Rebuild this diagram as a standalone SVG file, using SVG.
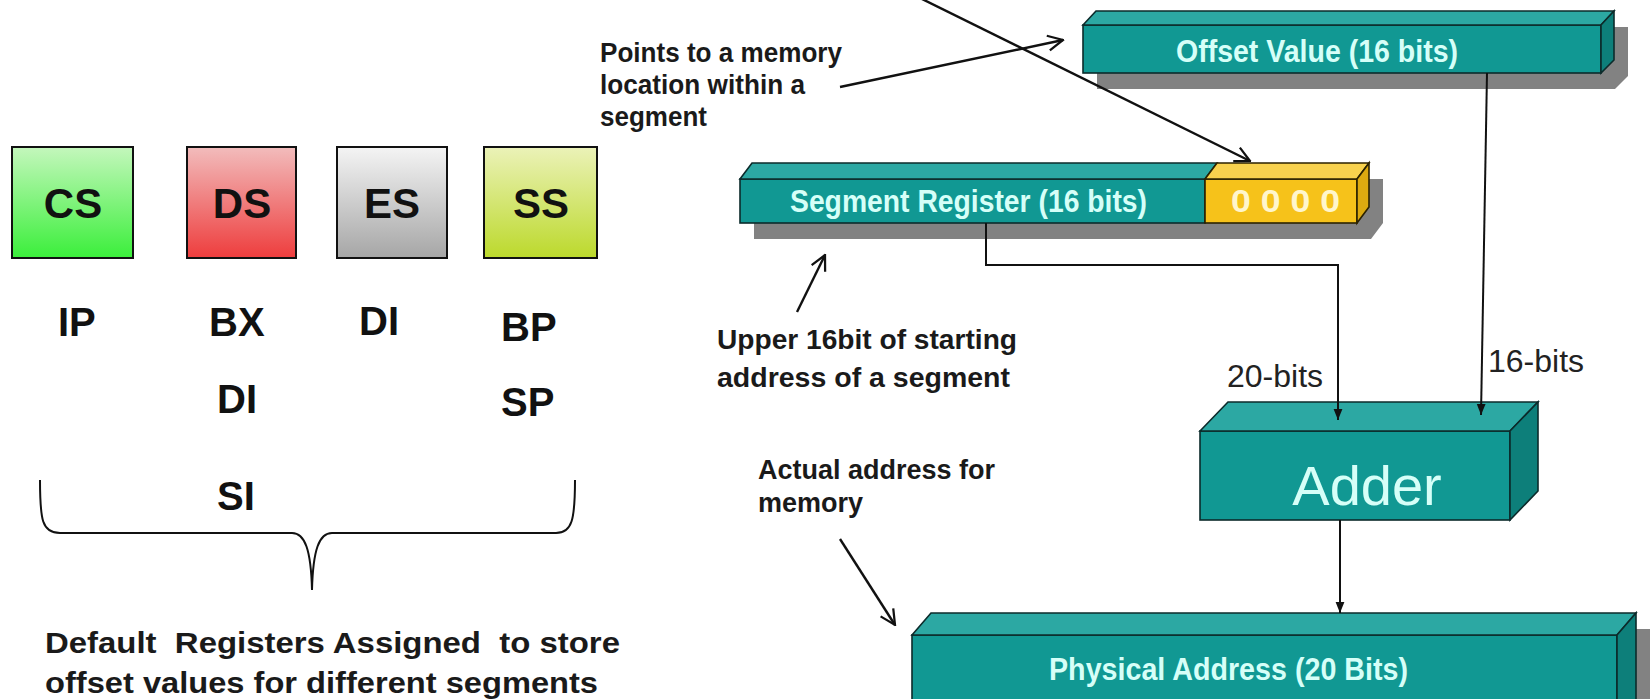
<svg xmlns="http://www.w3.org/2000/svg" width="1650" height="699" viewBox="0 0 1650 699">
<style>
  .seg{stroke:#111;stroke-width:2}
  .big{font-family:"Liberation Sans",Arial,sans-serif;font-weight:bold;font-size:42px;fill:#111;text-anchor:middle}
  .reg{font-family:"Liberation Sans",Arial,sans-serif;font-weight:bold;font-size:40px;fill:#111}
  .note{font-family:"Liberation Sans",Arial,sans-serif;font-weight:bold;font-size:27px;fill:#1a1a1a}
  .cap{font-family:"Liberation Sans",Arial,sans-serif;font-weight:bold;font-size:30px;fill:#1a1a1a}
  .bits{font-family:"Liberation Sans",Arial,sans-serif;font-size:32px;fill:#222}
  .front{fill:#119893;stroke:#0c2b2b;stroke-width:1.6}
  .top{fill:#2ca8a3;stroke:#0c2b2b;stroke-width:1.6}
  .side{fill:#0d7f7a;stroke:#0c2b2b;stroke-width:1.6}
  .yfront{fill:#f6c21a;stroke:#2b2200;stroke-width:1.6}
  .ytop{fill:#f8d24e;stroke:#2b2200;stroke-width:1.6}
  .yside{fill:#dcaa10;stroke:#2b2200;stroke-width:1.6}
  .shadow{fill:#828282}
  .btxt{font-family:"Liberation Sans Narrow","Liberation Sans",Arial,sans-serif;font-weight:bold;font-size:31px;fill:#d6fff8}
  .conn{fill:none;stroke:#111;stroke-width:2}
  .ann{fill:none;stroke:#111;stroke-width:2.4}
</style>
<defs>
  <linearGradient id="gCS" x1="0" y1="0" x2="0" y2="1"><stop offset="0" stop-color="#c4f7bc"/><stop offset="1" stop-color="#3bef3b"/></linearGradient>
  <linearGradient id="gDS" x1="0" y1="0" x2="0" y2="1"><stop offset="0" stop-color="#f2bcbc"/><stop offset="1" stop-color="#ee3d3d"/></linearGradient>
  <linearGradient id="gES" x1="0" y1="0" x2="0" y2="1"><stop offset="0" stop-color="#f4f4f4"/><stop offset="1" stop-color="#a6a6a6"/></linearGradient>
  <linearGradient id="gSS" x1="0" y1="0" x2="0" y2="1"><stop offset="0" stop-color="#ebf2b8"/><stop offset="1" stop-color="#bcd92c"/></linearGradient>
  <marker id="arrF" viewBox="0 0 10 10" refX="10" refY="5" markerWidth="11" markerHeight="11" markerUnits="userSpaceOnUse" orient="auto"><path d="M0,1 L10,5 L0,9 z" fill="#111"/></marker>
  <marker id="arrO" viewBox="0 0 12 12" refX="11" refY="6" markerWidth="18" markerHeight="18" markerUnits="userSpaceOnUse" orient="auto"><path d="M1,1 L11,6 L1,11" fill="none" stroke="#111" stroke-width="1.5"/></marker>
</defs>
<rect width="1650" height="699" fill="#ffffff"/>

<!-- segment register boxes -->
<g id="cs"><rect x="12" y="147" width="121" height="111" fill="url(#gCS)" class="seg"/><text x="73" y="218" class="big">CS</text></g>
<g id="ds"><rect x="187" y="147" width="109" height="111" fill="url(#gDS)" class="seg"/><text x="242" y="218" class="big" fill="#220000">DS</text></g>
<g id="es"><rect x="337" y="147" width="110" height="111" fill="url(#gES)" class="seg"/><text x="392" y="218" class="big">ES</text></g>
<g id="ss"><rect x="484" y="147" width="113" height="111" fill="url(#gSS)" class="seg"/><text x="541" y="218" class="big">SS</text></g>

<!-- default offset registers -->
<g id="regs">
  <text x="58" y="336" class="reg">IP</text>
  <text x="209" y="336" class="reg">BX</text>
  <text x="359" y="335" class="reg">DI</text>
  <text x="501" y="341" class="reg">BP</text>
  <text x="217" y="413" class="reg">DI</text>
  <text x="501" y="416" class="reg">SP</text>
  <text x="217" y="510" class="reg">SI</text>
</g>
<g id="brace">
  <path d="M40,480 C40,520 42,533 60,533 L292,533 C305,533 311,550 312,590 C313,550 319,533 332,533 L556,533 C572,533 575,520 575,480" fill="none" stroke="#111" stroke-width="2"/>
</g>
<g id="caption">
  <text x="45" y="653" class="cap" xml:space="preserve" textLength="575" lengthAdjust="spacingAndGlyphs">Default  Registers Assigned  to store</text>
  <text x="45" y="693" class="cap" textLength="553" lengthAdjust="spacingAndGlyphs">offset values for different segments</text>
</g>

<!-- offset value box -->
<g id="offset">
  <polygon class="shadow" points="1097,41 1110,27 1628,27 1628,76 1615,89 1097,89"/>
  <rect class="front" x="1083" y="25" width="518" height="48"/>
  <polygon class="top" points="1083,25 1096,11 1614,11 1601,25"/>
  <polygon class="side" points="1601,25 1614,11 1614,60 1601,73"/>
  <text x="1176" y="62" class="btxt" textLength="282" lengthAdjust="spacingAndGlyphs">Offset Value (16 bits)</text>
</g>

<!-- segment register -->
<g id="segreg">
  <polygon class="shadow" points="754,195 766,179 1383,179 1383,223 1371,239 754,239"/>
  <rect class="front" x="740" y="179" width="465" height="44"/>
  <rect class="yfront" x="1205" y="179" width="152" height="44"/>
  <polygon class="top" points="740,179 752,163 1217,163 1205,179"/>
  <polygon class="ytop" points="1205,179 1217,163 1369,163 1357,179"/>
  <polygon class="yside" points="1357,179 1369,163 1369,207 1357,223"/>
  <text x="790" y="212" class="btxt" textLength="357" lengthAdjust="spacingAndGlyphs">Segment Register (16 bits)</text>
  <text x="1231" y="212" class="btxt" style="fill:#fff6cc" textLength="109" lengthAdjust="spacingAndGlyphs" xml:space="preserve">0 0 0 0</text>
</g>

<!-- adder -->
<g id="adder">
  <rect class="front" x="1200" y="431" width="310" height="89"/>
  <polygon class="top" points="1200,431 1228,402 1538,402 1510,431"/>
  <polygon class="side" points="1510,431 1538,402 1538,491 1510,520"/>
  <text x="1367" y="505" font-family="Liberation Sans, Arial, sans-serif" font-size="56" fill="#d6fff8" text-anchor="middle">Adder</text>
</g>

<!-- physical address -->
<g id="physical">
  <polygon class="shadow" points="926,651 945,629 1652,629 1652,760 926,760"/>
  <rect class="front" x="912" y="635" width="705" height="110"/>
  <polygon class="top" points="912,635 931,613 1636,613 1617,635"/>
  <polygon class="side" points="1617,635 1636,613 1636,725 1617,745"/>
  <text x="1049" y="680" class="btxt" textLength="359" lengthAdjust="spacingAndGlyphs">Physical Address (20 Bits)</text>
</g>

<!-- annotations -->
<g id="notes">
  <text class="note" x="600" y="62" textLength="242" lengthAdjust="spacingAndGlyphs">Points to a memory</text>
  <text class="note" x="600" y="94" textLength="205" lengthAdjust="spacingAndGlyphs">location within a</text>
  <text class="note" x="600" y="126" textLength="107" lengthAdjust="spacingAndGlyphs">segment</text>
  <text class="note" x="717" y="349" textLength="300" lengthAdjust="spacingAndGlyphs">Upper 16bit of starting</text>
  <text class="note" x="717" y="387" textLength="293" lengthAdjust="spacingAndGlyphs">address of a segment</text>
  <text class="note" x="758" y="479">Actual address for</text>
  <text class="note" x="758" y="512">memory</text>
  <text class="bits" x="1227" y="387">20-bits</text>
  <text class="bits" x="1488" y="372">16-bits</text>
</g>

<!-- connectors -->
<g id="connectors">
  <polyline class="conn" points="986,223 986,265 1338,265 1338,420" marker-end="url(#arrF)"/>
  <line class="conn" x1="1487" y1="73" x2="1481" y2="415" marker-end="url(#arrF)"/>
  <line class="conn" x1="1340" y1="520" x2="1340" y2="613" marker-end="url(#arrF)"/>
  <line class="ann" x1="920" y1="-2" x2="1250" y2="161" marker-end="url(#arrO)"/>
  <line class="ann" x1="840" y1="87" x2="1063" y2="40" marker-end="url(#arrO)"/>
  <line class="ann" x1="797" y1="312" x2="825" y2="255" marker-end="url(#arrO)"/>
  <line class="ann" x1="840" y1="539" x2="895" y2="625" marker-end="url(#arrO)"/>
</g>
</svg>
